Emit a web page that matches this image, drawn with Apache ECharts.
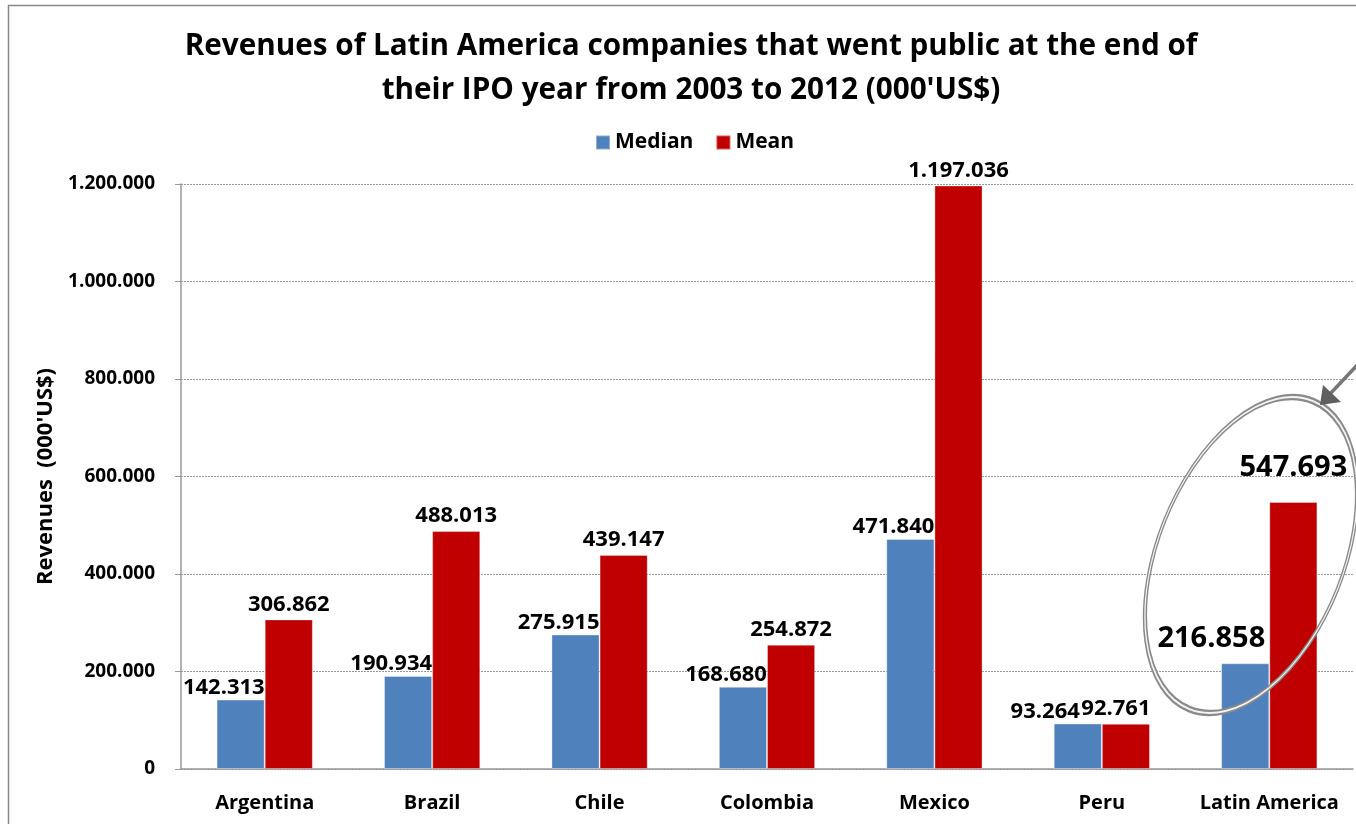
<!DOCTYPE html>
<html>
<head>
<meta charset="utf-8">
<script src="https://cdn.jsdelivr.net/npm/echarts@6/dist/echarts.min.js"></script>
<style>
  html, body { margin: 0; padding: 0; background: #fff; }
  #main { width: 1356px; height: 824px; }
</style>
</head>
<body>
<div id="main"></div>
<script>
const categories = ['Argentina', 'Brazil', 'Chile', 'Colombia', 'Mexico', 'Peru', 'Latin America'];
const medianValues = [142313, 190934, 275915, 168680, 471840, 93264, 216858];
const meanValues = [306862, 488013, 439147, 254872, 1197036, 92761, 547693];
const yTicks = [0, 200000, 400000, 600000, 800000, 1000000, 1200000];

const FONT = '"Open Sans", Lato, sans-serif';

// 1234567 -> 1.234.567
function fmt(v) {
  return String(Math.round(v)).replace(/\B(?=(\d{3})+(?!\d))/g, '.');
}

const chart = echarts.init(document.getElementById('main'));

const medianData = medianValues.map((v, i) => {
  const item = { value: v };
  if (i === 5) item.label = { offset: [2, 0] };
  if (i === 6) item.label = { fontSize: 29, distance: 10, offset: [20, 0] };
  return item;
});
const meanData = meanValues.map((v, i) => {
  const item = { value: v };
  if (i === 5) item.label = { offset: [-10, 0] };
  if (i === 6) item.label = { fontSize: 29, distance: 20 };
  return item;
});

const option = {
  backgroundColor: '#fff',
  textStyle: { fontFamily: FONT },
  title: {
    text: 'Revenues of Latin America companies that went public at the end of\ntheir IPO year from 2003 to 2012 (000\'US$)',
    left: 686,
    textAlign: 'center',
    top: 20,
    textStyle: { fontSize: 29.7, fontWeight: 'bold', color: '#000', lineHeight: 44, fontFamily: FONT }
  },
  legend: {
    top: 127,
    left: 590,
    itemWidth: 14,
    itemHeight: 14,
    itemGap: 22,
    icon: 'rect',
    textStyle: { fontSize: 21, fontWeight: 'bold', color: '#000', fontFamily: FONT },
    data: ['Median', 'Mean']
  },
  grid: { left: 181, right: 3, top: 184, bottom: 55, containLabel: false },
  xAxis: {
    type: 'category',
    data: categories,
    axisLine: { lineStyle: { color: '#999', width: 1.5 } },
    axisTick: { show: false },
    axisLabel: { interval: 0, fontSize: 20, fontWeight: 'bold', color: '#000', margin: 24, fontFamily: FONT }
  },
  yAxis: {
    type: 'value',
    min: yTicks[0],
    max: yTicks[yTicks.length - 1],
    interval: 200000,
    name: 'Revenues  (000\'US$)',
    nameLocation: 'middle',
    nameGap: 120,
    nameTextStyle: { fontSize: 22, fontWeight: 'bold', color: '#000', fontFamily: FONT },
    axisLine: { show: true, lineStyle: { color: '#999', width: 1.5 } },
    axisTick: { show: true, inside: false, length: 6, lineStyle: { color: '#999' } },
    axisLabel: { fontSize: 19, fontWeight: 'bold', color: '#000', margin: 26, formatter: fmt, fontFamily: FONT },
    splitLine: { show: true, lineStyle: { color: '#999', type: [2, 1], width: 1 } }
  },
  series: [
    {
      name: 'Median',
      type: 'bar',
      data: medianData,
      barGap: '0%',
      barCategoryGap: '42.5%',
      itemStyle: { color: '#4F81BD', borderColor: 'rgba(255,255,255,0.35)', borderWidth: 1 },
      label: {
        show: true,
        position: 'top',
        align: 'right',
        distance: 1,
        offset: [24, 0],
        formatter: p => fmt(p.value),
        fontSize: 22,
        fontWeight: 'bold',
        color: '#000',
        fontFamily: FONT
      }
    },
    {
      name: 'Mean',
      type: 'bar',
      data: meanData,
      itemStyle: { color: '#C00000', borderColor: 'rgba(255,255,255,0.35)', borderWidth: 1 },
      label: {
        show: true,
        position: 'top',
        distance: 4,
        formatter: p => fmt(p.value),
        fontSize: 22,
        fontWeight: 'bold',
        color: '#000',
        fontFamily: FONT
      }
    }
  ],
  graphic: [
    // outer frame of the chart object (only left/top edges visible)
    {
      type: 'rect',
      shape: { x: 8.5, y: 5.5, width: 1400, height: 900 },
      style: { fill: 'none', stroke: '#888', lineWidth: 1.5 },
      silent: true
    },
    // highlight ellipse around Latin America
    {
      type: 'circle',
      shape: { cx: 0, cy: 0, r: 93 },
      x: 1251, y: 555,
      scaleY: 1.785,
      rotation: -0.38,
      style: { fill: 'none', stroke: '#8a8a8a', lineWidth: 5, strokeNoScale: true },
      silent: true,
      z: 100
    },
    {
      type: 'circle',
      shape: { cx: 0, cy: 0, r: 93 },
      x: 1251, y: 555,
      scaleY: 1.785,
      rotation: -0.38,
      style: { fill: 'none', stroke: '#f4f4f4', lineWidth: 1.5, strokeNoScale: true },
      silent: true,
      z: 101
    },
    // arrow pointing at the ellipse
    {
      type: 'line',
      shape: { x1: 1362, y1: 360, x2: 1330, y2: 394 },
      style: { stroke: '#777', lineWidth: 3.5 },
      silent: true,
      z: 100
    },
    {
      type: 'polygon',
      shape: { points: [[1320, 405], [1323, 385], [1341, 402]] },
      style: { fill: '#5f5f5f' },
      silent: true,
      z: 102
    }
  ]
};

chart.setOption(option);
</script>
</body>
</html>
